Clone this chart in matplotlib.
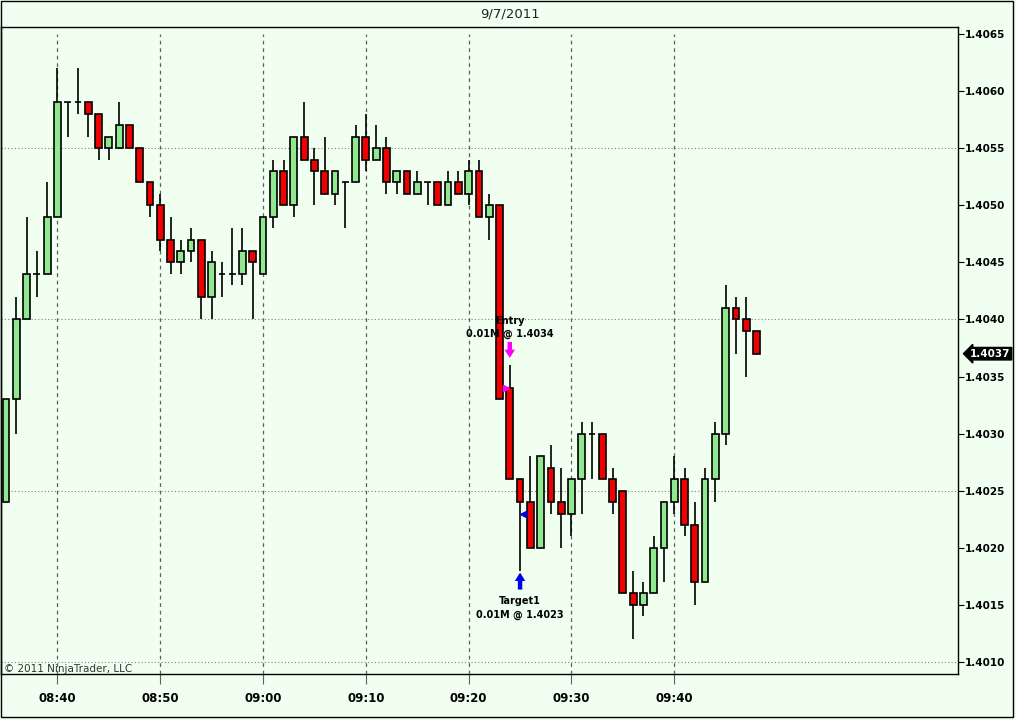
import matplotlib
matplotlib.use("Agg")
import matplotlib.pyplot as plt
from matplotlib.patches import Rectangle
from matplotlib import transforms

# ---- data (1-minute bars starting 08:35) ----
start_time = "08:35"
opens = [1.4024, 1.4033, 1.4040, 1.4044, 1.4044, 1.4049, 1.4059, 1.4059, 1.4059, 1.4058,
         1.4055, 1.4055, 1.4057, 1.4055, 1.4052, 1.4050, 1.4047, 1.4045, 1.4046, 1.4047,
         1.4042, 1.4044, 1.4044, 1.4044, 1.4046, 1.4044, 1.4049, 1.4053, 1.4050, 1.4056,
         1.4054, 1.4053, 1.4051, 1.4052, 1.4052, 1.4056, 1.4054, 1.4055, 1.4052, 1.4053,
         1.4051, 1.4052, 1.4052, 1.4050, 1.4052, 1.4051, 1.4053, 1.4049, 1.4050, 1.4034,
         1.4026, 1.4024, 1.4020, 1.4027, 1.4024, 1.4023, 1.4026, 1.4030, 1.4030, 1.4026,
         1.4025, 1.4016, 1.4015, 1.4016, 1.4020, 1.4024, 1.4026, 1.4022, 1.4017, 1.4026,
         1.4030, 1.4041, 1.4040, 1.4039]
highs = [1.4033, 1.4042, 1.4049, 1.4046, 1.4052, 1.4062, 1.4059, 1.4062, 1.4059, 1.4058,
         1.4056, 1.4059, 1.4057, 1.4055, 1.4052, 1.4051, 1.4049, 1.4047, 1.4048, 1.4047,
         1.4046, 1.4045, 1.4048, 1.4048, 1.4046, 1.4049, 1.4054, 1.4054, 1.4056, 1.4059,
         1.4055, 1.4056, 1.4053, 1.4052, 1.4057, 1.4058, 1.4057, 1.4056, 1.4053, 1.4053,
         1.4053, 1.4052, 1.4052, 1.4053, 1.4053, 1.4054, 1.4054, 1.4051, 1.4050, 1.4036,
         1.4026, 1.4028, 1.4028, 1.4029, 1.4027, 1.4026, 1.4031, 1.4031, 1.4030, 1.4027,
         1.4025, 1.4018, 1.4017, 1.4021, 1.4024, 1.4028, 1.4027, 1.4024, 1.4027, 1.4031,
         1.4043, 1.4042, 1.4042, 1.4039]
lows = [1.4024, 1.4030, 1.4040, 1.4042, 1.4044, 1.4049, 1.4056, 1.4058, 1.4056, 1.4054,
        1.4054, 1.4055, 1.4055, 1.4052, 1.4049, 1.4046, 1.4044, 1.4044, 1.4045, 1.4040,
        1.4040, 1.4042, 1.4043, 1.4043, 1.4040, 1.4044, 1.4048, 1.4050, 1.4049, 1.4054,
        1.4050, 1.4051, 1.4050, 1.4048, 1.4052, 1.4053, 1.4054, 1.4051, 1.4051, 1.4051,
        1.4051, 1.4050, 1.4050, 1.4050, 1.4051, 1.4050, 1.4049, 1.4047, 1.4033, 1.4026,
        1.4018, 1.4020, 1.4020, 1.4023, 1.4020, 1.4021, 1.4023, 1.4026, 1.4026, 1.4023,
        1.4016, 1.4012, 1.4014, 1.4016, 1.4017, 1.4023, 1.4021, 1.4015, 1.4017, 1.4024,
        1.4029, 1.4037, 1.4035, 1.4037]
closes = [1.4033, 1.4040, 1.4044, 1.4044, 1.4049, 1.4059, 1.4059, 1.4059, 1.4058, 1.4055,
          1.4056, 1.4057, 1.4055, 1.4052, 1.4050, 1.4047, 1.4045, 1.4046, 1.4047, 1.4042,
          1.4045, 1.4044, 1.4044, 1.4046, 1.4045, 1.4049, 1.4053, 1.4050, 1.4056, 1.4054,
          1.4053, 1.4051, 1.4053, 1.4052, 1.4056, 1.4054, 1.4055, 1.4052, 1.4053, 1.4051,
          1.4052, 1.4052, 1.4050, 1.4052, 1.4051, 1.4053, 1.4049, 1.4050, 1.4033, 1.4026,
          1.4024, 1.4020, 1.4028, 1.4024, 1.4023, 1.4026, 1.4030, 1.4030, 1.4026, 1.4024,
          1.4016, 1.4015, 1.4016, 1.4020, 1.4024, 1.4026, 1.4022, 1.4017, 1.4026, 1.4030,
          1.4041, 1.4040, 1.4039, 1.4037]

time_labels = ["08:40", "08:50", "09:00", "09:10", "09:20", "09:30", "09:40"]
price_ticks = [1.4010, 1.4015, 1.4020, 1.4025, 1.4030, 1.4035, 1.4040,
               1.4045, 1.4050, 1.4055, 1.4060, 1.4065]
hgrid_prices = [1.4010, 1.4025, 1.4040, 1.4055]

entry_time, entry_price, entry_label = "09:24", 1.4034, "0.01M @ 1.4034"
target_time, target_price, target_label = "09:25", 1.4023, "0.01M @ 1.4023"
last_price = 1.4037
title = "9/7/2011"
copyright_text = "\u00a9 2011 NinjaTrader, LLC"


def minutes(s):
    h, m = s.split(":")
    return int(h) * 60 + int(m)


t0 = minutes(start_time)


def idx(s):
    return minutes(s) - t0


# ---- figure ----
BG = "#F0FFF0"
W, H = 1016, 720
fig = plt.figure(figsize=(W / 100, H / 100), dpi=100, facecolor=BG)
ax = fig.add_axes([1 / W, 1 - 674 / H, 957 / W, 647 / H])
ax.set_facecolor(BG)

ax.set_xlim(-0.49, 92.6)
ax.set_ylim(1.400895, 1.406561)

# grid
for p in hgrid_prices:
    ax.axhline(p, color="#808080", lw=0.8, ls=(0, (1, 2)), zorder=1)
for lab in time_labels:
    ax.axvline(idx(lab), ymin=0, ymax=1 - 7 / 647, color="#606060", lw=0.9,
               ls=(0, (3, 3)), zorder=1)

# candles
bw = 0.66
for i, (o, h, l, c) in enumerate(zip(opens, highs, lows, closes)):
    ax.vlines(i, l, h, color="black", lw=1.2, zorder=2)
    if c == o:
        ax.hlines(o, i - bw / 2, i + bw / 2, color="black", lw=1.2, zorder=3)
    else:
        fc = "#90E890" if c > o else "#F00000"
        ax.add_patch(Rectangle((i - bw / 2, min(o, c)), bw, abs(c - o),
                               facecolor=fc, edgecolor="black", lw=1.2, zorder=3))

# ticks
ax.yaxis.tick_right()
ax.set_yticks(price_ticks)
ax.set_yticklabels([f"{p:.4f}" for p in price_ticks])
ax.set_xticks([idx(s) for s in time_labels])
ax.set_xticklabels(time_labels)
ax.tick_params(axis="y", direction="out", length=4, width=0.8, pad=1,
               labelsize=7.5, colors="black")
ax.tick_params(axis="x", direction="out", length=7, width=0.8, pad=6,
               labelsize=8.5, colors="black")
ax.tick_params(axis="x", color="#606060")
for lab in ax.get_xticklabels() + ax.get_yticklabels():
    lab.set_fontweight("bold")
    lab.set_family("DejaVu Sans")
for sp in ax.spines.values():
    sp.set_color("black")
    sp.set_linewidth(1.0)

# title
fig.text(510 / W, 1 - 14 / H, title, ha="center", va="center",
         fontsize=9.5, color="#222222", family="DejaVu Sans")

# copyright
ax.text(0.003, 0.0, copyright_text, transform=ax.transAxes, ha="left", va="bottom",
        fontsize=7.5, color="#333333", family="DejaVu Sans")


def off(dx, dy):
    return transforms.offset_copy(ax.transData, fig=fig, x=dx, y=dy, units="dots")


arrow_style = "simple,head_length=0.6,head_width=0.75,tail_width=0.32"

# entry marker
ex = idx(entry_time)
ax.plot([ex - 0.4], [entry_price], marker=">", color="#FF00FF", ms=5, zorder=5, ls="none")
ax.annotate("", xy=(ex, entry_price), xycoords=off(0, 30),
            xytext=(ex, entry_price), textcoords=off(0, 46),
            arrowprops=dict(arrowstyle=arrow_style, color="#FF00FF", lw=0,
                            shrinkA=0, shrinkB=0), zorder=6)
ax.text(ex, entry_price, "Entry", transform=off(0, 67), ha="center", va="center",
        fontsize=7, fontweight="bold", color="black", zorder=6)
ax.text(ex, entry_price, entry_label, transform=off(0, 54), ha="center", va="center",
        fontsize=7, fontweight="bold", color="black", zorder=6)

# target marker
tx = idx(target_time)
ax.plot([tx + 0.25], [target_price], marker="<", color="#0000EE", ms=5, zorder=5, ls="none")
ax.annotate("", xy=(tx, target_price), xycoords=off(0, -59),
            xytext=(tx, target_price), textcoords=off(0, -76),
            arrowprops=dict(arrowstyle=arrow_style, color="#0000EE", lw=0,
                            shrinkA=0, shrinkB=0), zorder=6)
ax.text(tx, target_price, "Target1", transform=off(0, -87), ha="center", va="center",
        fontsize=7, fontweight="bold", color="black", zorder=6)
ax.text(tx, target_price, target_label, transform=off(0, -101), ha="center", va="center",
        fontsize=7, fontweight="bold", color="black", zorder=6)

# last price label
blend = transforms.blended_transform_factory(ax.transAxes, ax.transData)
ax.text(1.0 + 12 / 957, last_price, f"{last_price:.4f}", transform=blend,
        ha="left", va="center", fontsize=7.5, fontweight="bold", color="white",
        bbox=dict(boxstyle="larrow,pad=0.12", fc="black", ec="black"), clip_on=False)

# outer frame
fig.patches.append(Rectangle((0.5 / W, 3 / H), 1012 / W, 716.5 / H, transform=fig.transFigure,
                             fill=False, edgecolor="black", lw=1.0))

fig.savefig("out.png", dpi=100, facecolor=BG)
